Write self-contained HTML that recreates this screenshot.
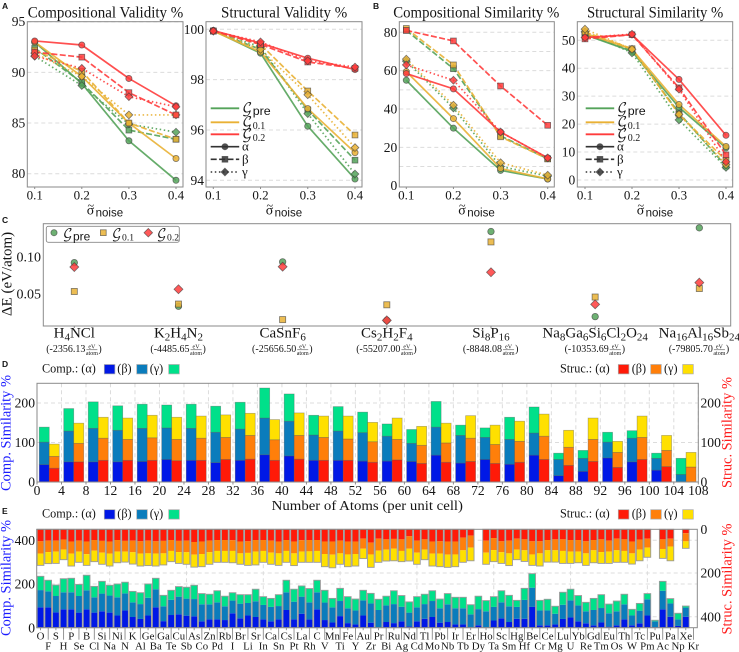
<!DOCTYPE html>
<html lang="en">
<head>
<meta charset="utf-8">
<title>Similarity and validity figure</title>
<style>
html,body{margin:0;padding:0;background:#fff}
svg{display:block}
text{font-family:"Liberation Serif","DejaVu Serif",serif;fill:#151515}
</style>
</head>
<body>
<svg id="figure" width="739" height="652" viewBox="0 0 739 652" xmlns="http://www.w3.org/2000/svg">
  <rect x="0" y="0" width="739" height="652" fill="#ffffff"/>
  <g id="panel-lines"></g>
  <g id="panel-c"></g>
  <g id="panel-d"></g>
  <g id="panel-e"></g>
  <g style="font-weight:bold">
    <text x="2" y="9" font-size="8.5" style="font-family:'Liberation Sans',sans-serif">A</text>
    <text x="373" y="9" font-size="8.5" style="font-family:'Liberation Sans',sans-serif">B</text>
    <text x="2" y="223" font-size="8.5" style="font-family:'Liberation Sans',sans-serif">C</text>
    <text x="2" y="367" font-size="8.5" style="font-family:'Liberation Sans',sans-serif">D</text>
    <text x="2" y="514" font-size="8.5" style="font-family:'Liberation Sans',sans-serif">E</text>
  </g>
</svg>
<script>
// ---------- Panel A / B data ----------
const noiseLevels=[0.1,0.2,0.3,0.4];
const noiseTickLabels=['0.1','0.2','0.3','0.4'];

const compValidityPreAlpha=[93.0,88.9,83.25,79.35];
const compValidityPreBeta=[92.4,89.0,84.3,83.4];
const compValidityPreGamma=[91.6,88.7,84.9,84.1];
const compValidity01Alpha=[93.0,89.6,85.0,81.5];
const compValidity01Beta=[92.2,90.1,85.0,83.4];
const compValidity01Gamma=[91.9,89.6,85.8,85.8];
const compValidity02Alpha=[93.1,92.7,89.4,86.7];
const compValidity02Beta=[92.0,91.5,88.0,85.8];
const compValidity02Gamma=[91.6,90.4,87.6,86.6];
const compValidityTicks=[80,85,90,95];

const strucValidityPreAlpha=[99.95,99.05,96.15,94.05];
const strucValidityPreBeta=[99.93,99.2,96.8,94.8];
const strucValidityPreGamma=[99.93,99.3,96.65,94.25];
const strucValidity01Alpha=[99.93,99.1,96.85,95.1];
const strucValidity01Beta=[99.93,99.4,97.55,95.8];
const strucValidity01Gamma=[99.93,99.2,97.4,95.3];
const strucValidity02Alpha=[99.95,99.45,98.85,98.4];
const strucValidity02Beta=[99.93,99.4,98.7,98.45];
const strucValidity02Gamma=[99.93,99.5,98.75,98.5];
const strucValidityTicks=[94,96,98,100];

const compSimilarityPreAlpha=[55,30,8,3.5];
const compSimilarityPreBeta=[81,61,26,14];
const compSimilarityPreGamma=[65,40.5,10,5];
const compSimilarity01Alpha=[59.5,35,9,3.5];
const compSimilarity01Beta=[82,63,25.5,14];
const compSimilarity01Gamma=[66,42,12,5.5];
const compSimilarity02Alpha=[58.5,50.5,28,14.5];
const compSimilarity02Beta=[81,75.5,52,31.5];
const compSimilarity02Gamma=[63,55,28,14.5];
const compSimilarityTicks=[0,20,40,60,80];
const compSimilarityGrid=[10,20,30,40,50,60,70,80];

const strucSimilarityPreAlpha=[52,46,26,11.5];
const strucSimilarityPreBeta=[52,46.5,24,5];
const strucSimilarityPreGamma=[53,45.5,21.5,4.5];
const strucSimilarity01Alpha=[52.5,46.8,27,12];
const strucSimilarity01Beta=[53,47,23.5,7];
const strucSimilarity01Gamma=[54,46.8,23.5,5.5];
const strucSimilarity02Alpha=[51,52,36,16];
const strucSimilarity02Beta=[50.5,52,33,9];
const strucSimilarity02Gamma=[51,52.2,32.5,6.5];
const strucSimilarityTicks=[0,10,20,30,40,50];

// ---------- Panel C data ----------
const energyCategories=[
 [['H',0],['4',1],['NCl',0]],
 [['K',0],['2',1],['H',0],['4',1],['N',0],['2',1]],
 [['CaSnF',0],['6',1]],
 [['Cs',0],['2',1],['H',0],['2',1],['F',0],['4',1]],
 [['Si',0],['8',1],['P',0],['16',1]],
 [['Na',0],['8',1],['Ga',0],['6',1],['Si',0],['6',1],['Cl',0],['2',1],['O',0],['24',1]],
 [['Na',0],['16',1],['Al',0],['16',1],['Sb',0],['24',1]]
];
const energyReference=['-2356.13','-4485.65','-25656.50','-55207.00','-8848.08','-10353.69','-79805.70'];
const energyPre=[0.092,0.033,0.093,0.014,0.134,0.019,0.139];
const energy01=[0.053,0.036,0.015,0.035,0.120,0.0455,0.057];
const energy02=[0.086,0.056,0.0865,0.014,0.079,0.0356,0.065];
const energyTicks=[0.05,0.10];
const energyTickLabels=['0.05','0.10'];

// ---------- Panel D data (cumulative stack tops) ----------
const atomCounts=[2,6,10,14,18,22,26,30,34,38,42,46,50,54,58,62,66,70,74,78,82,86,90,94,98,102,106];
const atomCompAlpha=[44,51,51,51,52,57,55,49,55,69,66,55,55,53,53,52,68,48,57,45,68,16,27,61,51,30,0];
const atomCompBeta=[101,129,136,131,136,137,136,126,134,162,154,119,129,125,116,98,139,118,113,108,124,57,60,101,111,60,19];
const atomCompGamma=[139,186,203,193,197,195,197,192,202,238,223,169,191,177,147,133,204,144,137,164,190,73,80,126,130,73,60];
const atomStrucAlpha=[35,51,55,55,55,54,55,57,58,55,58,55,55,50,56,47,50,52,47,50,57,42,52,37,57,39,0];
const atomStrucBeta=[65,98,111,108,112,108,111,113,118,107,118,113,109,102,108,93,99,111,95,103,116,88,108,75,113,80,38];
const atomStrucGamma=[96,149,164,162,169,164,167,170,174,158,175,167,167,151,162,141,149,168,144,154,172,131,162,103,167,118,75];
const atomXTicks=[0,4,8,12,16,20,24,28,32,36,40,44,48,52,56,60,64,68,72,76,80,84,88,92,96,100,104,108];
const atomYTicks=[0,100,200];

// ---------- Panel E data (cumulative stack tops) ----------
const elementNames=['O','F','S','H','P','Se','B','Cl','Si','Na','Ni','N','K','Al','Ge','Ba','Ga','Te','Cu','Sb','As','Co','Zn','Pd','Rb','I','Br','Li','Sr','In','Ca','Sn','Cs','Pt','La','Rh','C','V','Mn','Ti','Fe','Y','Au','Zr','Pr','Bi','Ru','Ag','Nd','Cd','Tl','Mo','Pb','Nb','Ir','Tb','Er','Dy','Ho','Ta','Sc','Sm','Hg','Hf','Be','Cr','Ce','Mg','Lu','U','Yb','Re','Gd','Tm','Eu','Os','Th','W','Tc','Pm','Pu','Ac','Pa','Np','Xe','Kr'];
const elementCompAlpha=[93,93,70,84,84,69,84,69,75,69,56,79,49,40,56,93,30,58,61,55,52,29,38,38,35,66,43,56,49,38,29,38,81,38,64,38,84,35,24,53,21,15,56,23,2,26,21,29,6,29,41,49,23,26,15,15,2,11,2,33,43,26,41,41,95,11,11,15,40,47,29,20,11,24,5,11,38,11,20,56,3,84,50,8,50,0];
const elementCompBeta=[172,166,145,162,162,145,171,139,156,147,139,157,116,108,137,176,98,128,142,133,131,107,107,116,98,124,110,113,121,104,95,99,162,119,142,116,162,115,93,122,89,79,125,111,81,102,108,96,69,93,108,122,89,107,89,89,61,85,75,95,116,98,95,127,183,79,79,64,105,125,102,75,81,90,66,75,107,56,78,130,29,169,111,38,92,0];
const elementCompGamma=[235,217,195,224,226,198,240,189,212,194,200,208,166,160,200,226,148,171,188,185,194,156,153,169,144,160,151,151,176,142,134,151,217,176,191,179,217,171,134,180,142,131,171,157,130,144,169,147,118,142,153,169,131,156,139,139,105,144,124,142,169,148,125,180,247,125,130,98,162,176,147,116,134,151,108,122,153,84,111,156,34,212,133,66,99,0];
const elementStrucAlpha=[55,52,52,47,56,52,56,49,53,56,49,53,52,55,52,55,53,49,53,52,58,56,52,49,49,50,56,55,49,49,52,56,49,56,50,49,49,56,56,52,56,56,43,61,43,46,44,46,32,52,46,56,55,56,56,38,29,0,52,40,55,52,43,46,55,55,49,46,46,49,49,55,49,46,52,43,46,56,47,43,0,46,43,0,18,0];
const elementStrucBeta=[111,104,102,93,111,102,114,98,107,111,102,102,105,111,110,111,110,99,104,105,116,113,105,99,99,99,110,108,102,99,107,110,99,110,102,101,99,113,116,110,115,113,89,115,98,93,89,99,89,107,93,111,111,116,115,96,84,0,107,95,105,110,93,96,115,110,96,96,99,102,102,110,96,104,102,96,99,110,93,84,0,90,79,0,55,0];
const elementStrucGamma=[165,157,156,139,168,151,165,148,160,168,153,150,159,168,166,168,163,148,156,160,173,171,160,151,151,153,160,165,163,151,160,165,151,166,151,151,151,171,176,160,171,168,134,174,151,145,144,148,145,160,139,168,171,174,171,151,144,0,160,148,156,166,139,147,165,168,150,150,156,156,153,165,153,156,156,151,151,159,144,128,0,133,144,0,87,0];
const elementYTicks=[0,200,400];

// ---------- helpers ----------
const NS='http://www.w3.org/2000/svg';
function add(tag,attrs,parent){
  const n=document.createElementNS(NS,tag);
  for(const k in attrs){n.setAttribute(k,attrs[k]);}
  parent.appendChild(n);
  return n;
}
function linear(v0,p0,v1,p1){return v=>p0+(v-v0)*(p1-p0)/(v1-v0);}
const GREEN='#55a35a',GOLD='#e9b135',RED='#ff3c3c',EDGE='#3c3c3c';
const GRID='#dcdcdc',SPINE='#8a8a8a';

function drawMarker(parent,shape,x,y,color,scale){
  const s=scale||1;
  let m;
  if(shape==='alpha'){
    m=add('circle',{cx:x,cy:y,r:3.1*s},parent);
  }else if(shape==='beta'){
    m=add('rect',{x:x-2.9*s,y:y-2.9*s,width:5.8*s,height:5.8*s},parent);
  }else{
    const r=3.9*s;
    m=add('polygon',{points:`${x},${y-r} ${x+r},${y} ${x},${y+r} ${x-r},${y}`},parent);
  }
  m.setAttribute('fill',color);
  m.setAttribute('fill-opacity','0.85');
  m.setAttribute('stroke',EDGE);
  m.setAttribute('stroke-opacity','0.65');
  m.setAttribute('stroke-width','0.8');
  return m;
}
function gLabel(parent,x,y,sub,sans,size){
  const t=add('text',{x:x,y:y,'font-size':size},parent);
  const a=add('tspan',{style:"font-family:'DejaVu Math TeX Gyre','DejaVu Sans','DejaVu Serif',serif"},t);
  a.textContent='\u{1D4A2}';
  const b=add('tspan',{dy:2.5,dx:0.5,'font-size':size*(sans?0.92:0.74)},t);
  if(sans){b.setAttribute('style',"font-family:'Liberation Sans',sans-serif");}
  b.textContent=sub;
  return t;
}
const DASH={alpha:'',beta:'6,2.4',gamma:'1.5,2.6'};
const SHAPES=['alpha','beta','gamma'];

function drawLinePanel(root,cfg){
  const g=add('g',{},root);
  
  
  const X=linear(noiseLevels[0],cfg.x1,noiseLevels[3],cfg.x4);
  const Y=linear(cfg.v0,cfg.p0,cfg.v1,cfg.p1);
  (cfg.grid||cfg.ticks).forEach(v=>{
    const l=add('line',{x1:cfg.left,x2:cfg.right,y1:Y(v),y2:Y(v),stroke:GRID,'stroke-width':1,'stroke-dasharray':'4,3'},g);
    
    
  });
  const groups=[[cfg.pre,GREEN],[cfg.g01,GOLD],[cfg.g02,RED]];
  groups.forEach(([sets,color])=>{
    sets.forEach((vals,i)=>{
      const shape=SHAPES[i];
      const pts=vals.map((v,k)=>X(noiseLevels[k]).toFixed(2)+','+Y(v).toFixed(2)).join(' ');
      const line=add('polyline',{points:pts,fill:'none',stroke:color,'stroke-width':1.7,'stroke-opacity':0.9},g);
      if(DASH[shape]){line.setAttribute('stroke-dasharray',DASH[shape]);}
      
      
    });
  });
  groups.forEach(([sets,color])=>{
    sets.forEach((vals,i)=>{
      vals.forEach((v,k)=>{
        const m=drawMarker(g,SHAPES[i],X(noiseLevels[k]),Y(v),color);
        
        
      });
    });
  });
  const frame=add('rect',{x:cfg.left,y:cfg.top,width:cfg.right-cfg.left,height:cfg.bottom-cfg.top,fill:'none',stroke:SPINE,'stroke-width':1},g);
  
  
  cfg.ticks.forEach(v=>{
    const t=add('text',{x:cfg.left-2,y:Y(v)+4.5,'text-anchor':'end','font-size':13.5},g);
    t.textContent=String(v);
    
    
  });
  noiseLevels.forEach((v,k)=>{
    const tk=add('line',{x1:X(v),x2:X(v),y1:cfg.bottom,y2:cfg.bottom+2,stroke:SPINE,'stroke-width':1},g);
    
    
    const t=add('text',{x:X(v),y:199.5,'text-anchor':'middle','font-size':13},g);
    t.textContent=noiseTickLabels[k];
    
    
  });
  const title=add('text',{x:cfg.tx1,y:17.3,'font-size':15.5,textLength:cfg.tx2-cfg.tx1,lengthAdjust:'spacingAndGlyphs'},g);
  title.textContent=cfg.title;
  
  
  const tilde=add('text',{x:cfg.lx+4,y:209.6,'text-anchor':'middle','font-size':12},g);
  tilde.textContent='~';
  
  
  const xl=add('text',{x:cfg.lx,y:214.6,'font-size':14},g);
  
  
  const s1=add('tspan',{},xl);
  s1.textContent='σ';
  const s2=add('tspan',{dy:2,dx:1.4,'font-size':11.5,style:"font-family:'Liberation Sans',sans-serif"},xl);
  s2.textContent='noise';
  if(cfg.legendX!==undefined){
    const lg=add('g',{},g);
    
    
    const x0=cfg.legendX,x1=x0+28.5;
    [[108.3,GREEN,'pre',true],[122.3,GOLD,'0.1',false],[134.3,RED,'0.2',false]].forEach(r=>{
      const l=add('line',{x1:x0,x2:x1,y1:r[0],y2:r[0],stroke:r[1],'stroke-width':1.8},lg);
      
      
      const t=gLabel(lg,x1+2.8,r[0]+4,r[2],r[3],13.5);
      
      
    });
    [[146.7,'alpha','α'],[159.3,'beta','β'],[172,'gamma','γ']].forEach(r=>{
      const l=add('line',{x1:x0,x2:x1,y1:r[0],y2:r[0],stroke:'#333','stroke-width':1.6},lg);
      if(DASH[r[1]]){l.setAttribute('stroke-dasharray',DASH[r[1]]);}
      
      
      const m=drawMarker(lg,r[1],(x0+x1)/2,r[0],'#333');
      
      
      const t=add('text',{x:x1+2.8,y:r[0]+4,'font-size':13},lg);
      t.textContent=r[2];
      
      
    });
  }
}

// ---------- draw line panels ----------
const linesRoot=document.getElementById('panel-lines');
drawLinePanel(linesRoot,{name:'compositional-validity-chart',title:'Compositional Validity %',tx1:27.7,tx2:183.3,lx:86.7,
  left:27.3,right:183,top:21.7,bottom:187,x1:34.7,x4:176,v0:95,p0:21.7,v1:80,p1:173.7,ticks:compValidityTicks,
  pre:[compValidityPreAlpha,compValidityPreBeta,compValidityPreGamma],
  g01:[compValidity01Alpha,compValidity01Beta,compValidity01Gamma],
  g02:[compValidity02Alpha,compValidity02Beta,compValidity02Gamma]});
drawLinePanel(linesRoot,{name:'structural-validity-chart',title:'Structural Validity %',tx1:221,tx2:347.3,lx:265.7,
  left:206,right:362,top:21.7,bottom:187,x1:213.3,x4:355,v0:100,p0:29.3,v1:94,p1:180.3,ticks:strucValidityTicks,legendX:210.7,
  pre:[strucValidityPreAlpha,strucValidityPreBeta,strucValidityPreGamma],
  g01:[strucValidity01Alpha,strucValidity01Beta,strucValidity01Gamma],
  g02:[strucValidity02Alpha,strucValidity02Beta,strucValidity02Gamma]});
drawLinePanel(linesRoot,{name:'compositional-similarity-chart',title:'Compositional Similarity %',tx1:393.3,tx2:559.3,lx:458.3,
  left:399.3,right:554.3,top:21.7,bottom:187,x1:406.3,x4:547.7,v0:80,p0:32.3,v1:0,p1:185.7,ticks:compSimilarityTicks,grid:compSimilarityGrid,
  pre:[compSimilarityPreAlpha,compSimilarityPreBeta,compSimilarityPreGamma],
  g01:[compSimilarity01Alpha,compSimilarity01Beta,compSimilarity01Gamma],
  g02:[compSimilarity02Alpha,compSimilarity02Beta,compSimilarity02Gamma]});
drawLinePanel(linesRoot,{name:'structural-similarity-chart',title:'Structural Similarity %',tx1:587,tx2:723.3,lx:636.7,
  left:577.3,right:732.7,top:21.7,bottom:187,x1:585,x4:726,v0:50,p0:40.3,v1:0,p1:180,ticks:strucSimilarityTicks,legendX:585.7,
  pre:[strucSimilarityPreAlpha,strucSimilarityPreBeta,strucSimilarityPreGamma],
  g01:[strucSimilarity01Alpha,strucSimilarity01Beta,strucSimilarity01Gamma],
  g02:[strucSimilarity02Alpha,strucSimilarity02Beta,strucSimilarity02Gamma]});

// ---------- Panel C ----------
(function(){
  const g=document.getElementById('panel-c');
  const L=43.3,R=730.7,T=223.7,B=326;
  const Y=linear(0.10,256.7,0.05,293.7);
  const X=i=>74.3+i*104.17;
  const frame=add('rect',{x:L,y:T,width:R-L,height:B-T,fill:'none',stroke:SPINE,'stroke-width':1},g);
  
  
  energyTicks.forEach((v,i)=>{
    const t=add('text',{x:41,y:Y(v)+4.8,'text-anchor':'end','font-size':14},g);
    t.textContent=energyTickLabels[i];
    
    
  });
  const yl=add('text',{transform:'translate(11.5,274) rotate(-90)','text-anchor':'middle','font-size':15},g);
  yl.textContent='ΔE (eV/atom)';
  
  
  energyCategories.forEach((parts,i)=>{
    const x=X(i);
    const tk=add('line',{x1:x,x2:x,y1:B,y2:B+2,stroke:SPINE,'stroke-width':1},g);
    
    
    const t=add('text',{x:x,y:337.3,'text-anchor':'middle','font-size':15},g);
    
    
    let prev=0;
    parts.forEach(p=>{
      const s=add('tspan',{},t);
      s.textContent=p[0];
      s.setAttribute('dy',(p[1]?3:0)-(prev?3:0));
      if(p[1]){s.setAttribute('font-size',11);}
      prev=p[1];
    });
    const r=add('text',{x:0,y:351.8,'font-size':10},g);
    r.textContent='('+energyReference[i];
    
    
    const w=r.getComputedTextLength?r.getComputedTextLength():40;
    const total=w+13+4;
    const start=x-total/2;
    r.setAttribute('x',start);
    const top=add('text',{x:start+w+6.5,y:348.6,'text-anchor':'middle','font-size':6},g);
    top.textContent='eV';
    
    
    const bar=add('line',{x1:start+w+1,x2:start+w+12,y1:349.8,y2:349.8,stroke:'#333','stroke-width':0.5},g);
    
    
    const bot=add('text',{x:start+w+6.5,y:354.8,'text-anchor':'middle','font-size':6},g);
    bot.textContent='atom';
    
    
    const c=add('text',{x:start+w+13,y:351.8,'font-size':10},g);
    c.textContent=')';
    
    
  });
  [[energyPre,'alpha',GREEN],[energy01,'beta',GOLD],[energy02,'gamma',RED]].forEach(([vals,shape,color])=>{
    vals.forEach((v,i)=>{
      const m=drawMarker(g,shape,X(i),Y(v),color,shape==='gamma'?1.15:1.05);
      
      
    });
  });
  const lg=add('g',{},g);
  
  
  const box=add('rect',{x:46.3,y:226.3,width:133,height:16,rx:2,fill:'#fff',stroke:'#888','stroke-width':0.9},lg);
  
  
  [[54,'alpha',GREEN,62.7,'pre',true],[103.3,'beta',GOLD,111.7,'0.1',false],[148.3,'gamma',RED,156.7,'0.2',false]].forEach(r=>{
    const m=drawMarker(lg,r[1],r[0],232.7,r[2],r[1]==='gamma'?1.1:1);
    
    
    const t=gLabel(lg,r[3],237.8,r[4],r[5],13);
    
    
  });
})();

// ---------- shared bar styling ----------
const C_COMP=['#0018e6','#0a7cbc','#00e08a'];
const C_STRUC=['#ff1a08','#ff7f0a','#ffe000'];
function barLegend(g,baseY){
  const comp=[[42,'Comp.: (α)'],[117.3,'(β)'],[149.7,'(γ)']];
  const struc=[[560,'Struc.: (α)'],[631.7,'(β)'],[664,'(γ)']];
  const sw=[[104.3,C_COMP[0]],[136.7,C_COMP[1]],[168.7,C_COMP[2]],[618.3,C_STRUC[0]],[650.7,C_STRUC[1]],[682.7,C_STRUC[2]]];
  comp.concat(struc).forEach(r=>{
    const t=add('text',{x:r[0],y:baseY,'font-size':12.2},g);
    t.textContent=r[1];
    
    
  });
  sw.forEach(r=>{
    const s=add('rect',{x:r[0],y:baseY-8,width:10.6,height:9.4,fill:r[1],stroke:'#aaa','stroke-width':0.7},g);
    
    
  });
}
function sideTitles(g,leftY,rightY){
  const a=add('text',{transform:`translate(10.5,${leftY}) rotate(-90)`,'text-anchor':'middle','font-size':15,textLength:116,lengthAdjust:'spacingAndGlyphs',style:'fill:#1a1aff'},g);
  a.textContent='Comp. Similarity %';
  
  
  const b=add('text',{transform:`translate(731.5,${rightY}) rotate(-90)`,'text-anchor':'middle','font-size':15,textLength:111,lengthAdjust:'spacingAndGlyphs',style:'fill:#ff1a1a'},g);
  b.textContent='Struc. Similarity %';
  
  
}

// ---------- Panel D ----------
(function(){
  const g=document.getElementById('panel-d');
  const L=37,R=698.3,T=383.3,B=482;
  const X=linear(0,L,108,R);
  const Y=linear(0,B,250,T);
  barLegend(g,372.5);
  atomXTicks.forEach(v=>{
    const l=add('line',{x1:X(v),x2:X(v),y1:T,y2:B,stroke:GRID,'stroke-width':1,'stroke-dasharray':'4,3'},g);
    
    
  });
  atomYTicks.forEach(v=>{
    const l=add('line',{x1:L,x2:R,y1:Y(v),y2:Y(v),stroke:GRID,'stroke-width':1,'stroke-dasharray':'4,3'},g);
    
    
  });
  const barW=10;
  atomCounts.forEach((n,i)=>{
    const cx=X(n);
    [[cx-barW,atomCompAlpha[i],atomCompBeta[i],atomCompGamma[i],C_COMP],[cx,atomStrucAlpha[i],atomStrucBeta[i],atomStrucGamma[i],C_STRUC]].forEach(b=>{
      let prev=0;
      [b[1],b[2],b[3]].forEach((top,k)=>{
        if(top>prev){
          const r=add('rect',{x:b[0],y:Y(top),width:barW,height:Y(prev)-Y(top),fill:b[4][k],stroke:'#555','stroke-opacity':0.45,'stroke-width':0.7},g);
          
          
        }
        prev=top;
      });
    });
  });
  const frame=add('rect',{x:L,y:T,width:R-L,height:B-T,fill:'none',stroke:SPINE,'stroke-width':1},g);
  
  
  atomXTicks.forEach(v=>{
    const k=add('line',{x1:X(v),x2:X(v),y1:B,y2:B+2.5,stroke:SPINE,'stroke-width':1},g);
    
    
    const t=add('text',{x:X(v),y:495,'text-anchor':'middle','font-size':13.6},g);
    t.textContent=String(v);
    
    
  });
  atomYTicks.forEach(v=>{
    const a=add('text',{x:35,y:Y(v)+4.6,'text-anchor':'end','font-size':13.6},g);
    a.textContent=String(v);
    
    
    const b=add('text',{x:700.5,y:Y(v)+4.6,'font-size':13.6},g);
    b.textContent=String(v);
    
    
  });
  const xt=add('text',{x:271.7,y:510,'font-size':14,textLength:191.3,lengthAdjust:'spacingAndGlyphs'},g);
  xt.textContent='Number of Atoms (per unit cell)';
  
  
  sideTitles(g,433,432.5);
})();

// ---------- Panel E ----------
(function(){
  const g=document.getElementById('panel-e');
  const L=36.7,R=697.3,T=529.3,B=627.7;
  const step=(R-L)/elementNames.length;
  const X=i=>L+(i+0.5)*step;
  const YC=linear(0,B,450,T);
  const YS=linear(0,T,450,B);
  barLegend(g,517.7);
  for(let i=9;i<elementNames.length;i+=10){
    const l=add('line',{x1:X(i),x2:X(i),y1:T,y2:B,stroke:GRID,'stroke-width':1,'stroke-dasharray':'4,3'},g);
    
    
  }
  elementYTicks.filter(v=>v>0).forEach(v=>{
    const a=add('line',{x1:L,x2:R,y1:YC(v),y2:YC(v),stroke:GRID,'stroke-width':1,'stroke-dasharray':'4,3'},g);
    
    
    const b=add('line',{x1:L,x2:R,y1:YS(v),y2:YS(v),stroke:GRID,'stroke-width':1,'stroke-dasharray':'4,3'},g);
    
    
  });
  const w=step-1;
  elementNames.forEach((name,i)=>{
    const x=X(i)-w/2;
    let prev=0;
    [elementCompAlpha[i],elementCompBeta[i],elementCompGamma[i]].forEach((top,k)=>{
      if(top>prev){
        const r=add('rect',{x:x,y:YC(top),width:w,height:YC(prev)-YC(top),fill:C_COMP[k]},g);
        
        
      }
      prev=top;
    });
    if(elementCompGamma[i]>0){
      const o=add('rect',{x:x,y:YC(elementCompGamma[i]),width:w,height:B-YC(elementCompGamma[i]),fill:'none',stroke:'#9a9a9a','stroke-width':0.9},g);
      
      
    }
    prev=0;
    [elementStrucAlpha[i],elementStrucBeta[i],elementStrucGamma[i]].forEach((top,k)=>{
      if(top>prev){
        const r=add('rect',{x:x,y:YS(prev),width:w,height:YS(top)-YS(prev),fill:C_STRUC[k]},g);
        
        
      }
      prev=top;
    });
    if(elementStrucGamma[i]>0){
      const o=add('rect',{x:x,y:T,width:w,height:YS(elementStrucGamma[i])-T,fill:'none',stroke:'#9a9a9a','stroke-width':0.9},g);
      
      
    }
    const odd=i%2===1;
    const k=add('line',{x1:X(i),x2:X(i),y1:B,y2:B+(odd?12:2.5),stroke:SPINE,'stroke-width':0.9},g);
    
    
    const t=add('text',{x:X(i),y:odd?649.3:639.3,'text-anchor':'middle','font-size':10.8},g);
    t.textContent=name;
    
    
  });
  const frame=add('rect',{x:L,y:T,width:R-L,height:B-T,fill:'none',stroke:SPINE,'stroke-width':1},g);
  
  
  elementYTicks.forEach(v=>{
    const a=add('text',{x:35,y:YC(v)+4.6,'text-anchor':'end','font-size':13.6},g);
    a.textContent=String(v);
    
    
    const b=add('text',{x:700.5,y:YS(v)+4.6,'font-size':13.6},g);
    b.textContent=String(v);
    
    
  });
  sideTitles(g,578,579);
})();
</script>
</body>
</html>
